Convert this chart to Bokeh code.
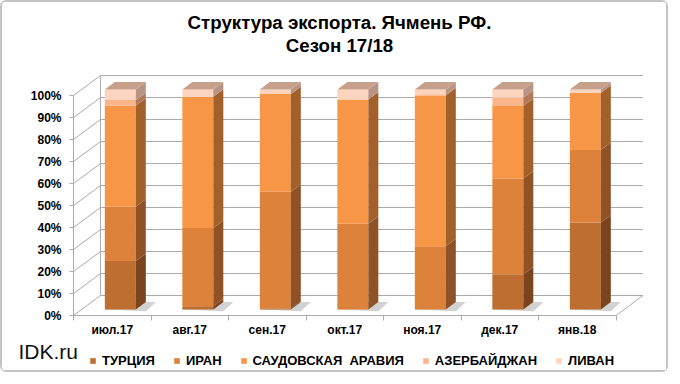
import numpy as np
from bokeh.plotting import figure
from bokeh.models import Range1d, FixedTicker, PrintfTickFormatter, Label, Legend, LegendItem
from bokeh.embed import file_html
from bokeh.resources import INLINE

# ---------------- data ----------------
months = ["июл.17", "авг.17", "сен.17", "окт.17", "ноя.17", "дек.17", "янв.18"]
series_names = ["ТУРЦИЯ", "ИРАН", "САУДОВСКАЯ  АРАВИЯ", "АЗЕРБАЙДЖАН", "ЛИВАН"]
turkey = [22.0, 1.5, 0.5, 0.0, 0.0, 16.0, 39.5]
iran = [24.7, 35.6, 53.0, 39.0, 28.8, 43.5, 33.0]
saudi = [46.0, 59.6, 44.4, 56.5, 68.5, 33.0, 26.0]
azerbaijan = [2.5, 0.0, 0.0, 0.0, 0.5, 3.8, 0.0]
lebanon = [4.8, 3.3, 2.1, 4.5, 2.2, 3.7, 1.5]
y_ticks = [0, 10, 20, 30, 40, 50, 60, 70, 80, 90, 100]
title_lines = ["Структура экспорта. Ячмень РФ.", "Сезон 17/18"]
brand = "IDK.ru"

# ---------------- styles ----------------
front_colors = ["#BE6E30", "#DC823A", "#F79646", "#FAB58A", "#FDD5BF"]
side_colors = ["#7A451E", "#8E5226", "#A2612B", "#B07A5C", "#B89484"]
top_color = "#C7A08C"
grid_color = "#ABABAB"
FONT = "Liberation Sans"

DX, DY = 0.348, 9.09       # depth of the 3D box (x units, percent units)
F1, F2 = 0.30, 0.67        # bar front / back depth fractions
BW = 0.40                  # bar width
PXX, PXY = 77.5, 2.2       # pixels per x unit / per percent
X0, Y0 = 71, 313           # pixel position of data origin inside the canvas
W, H = 668, 372

series = np.array([turkey, iran, saudi, azerbaijan, lebanon], dtype=float)
series = series / series.sum(axis=0) * 100.0
tops = np.cumsum(series, axis=0)
bottoms = tops - series
n = len(months)
idx = np.arange(n)

p = figure(width=W, height=H,
           x_range=Range1d(-X0 / PXX, (W - X0) / PXX),
           y_range=Range1d(-(H - Y0) / PXY, Y0 / PXY),
           output_backend="svg", toolbar_location=None,
           min_border=0, min_border_left=0, min_border_right=0,
           min_border_top=0, min_border_bottom=0)
p.xgrid.visible = False
p.ygrid.visible = False
p.outline_line_color = None
p.background_fill_color = "white"
p.border_fill_color = "white"
p.styles = {"border": "2px solid #c4c4c4", "border-radius": "6px"}

# ---------- walls / floor ----------
xs, ys = [], []
for v in y_ticks:
    xs.append([0, DX]); ys.append([v, v + DY])            # left wall diagonals
    xs.append([DX, n + DX]); ys.append([v + DY, v + DY])  # back wall gridlines
xs.append([0, 0]); ys.append([0, 100])
xs.append([DX, DX]); ys.append([DY, 100 + DY])
xs.append([0, n, n + DX]); ys.append([0, 0, DY])
p.multi_line(xs, ys, line_color=grid_color, line_width=1)

# ---------- bar shadows ----------
left = idx + 0.5 - BW / 2 + F1 * DX
right = left + BW
base = F1 * DY
dd = F2 - F1
sh_x = [[l, r + 0.13, r + dd * DX + 0.13, l + dd * DX] for l, r in zip(left, right)]
sh_y = [[base, base - 0.8, base + dd * DY, base + dd * DY] for _ in left]
p.patches(sh_x, sh_y, fill_color="#7F7F7F", fill_alpha=0.35, line_color=None)

# ---------- bars ----------
renderers = []
for s in range(len(series_names)):
    b = bottoms[s] + base
    t = tops[s] + base
    r = p.quad(left=left, right=right, bottom=b, top=t,
               fill_color=front_colors[s], line_color=None)
    renderers.append(r)
    px = [[rr, rr + dd * DX, rr + dd * DX, rr] for rr in right]
    py = [[bb, bb + dd * DY, tt + dd * DY, tt] for bb, tt in zip(b, t)]
    p.patches(px, py, fill_color=side_colors[s], line_color=None)

tt = tops[-1] + base
top_x = [[l, r, r + dd * DX, l + dd * DX] for l, r in zip(left, right)]
top_y = [[v, v, v + dd * DY, v + dd * DY] for v in tt]
p.patches(top_x, top_y, fill_color=top_color, line_color=None)

# ---------- axes (fixed at the front edges of the 3D box) ----------
ya = p.yaxis[0]
ya.fixed_location = 0
ya.ticker = FixedTicker(ticks=y_ticks, minor_ticks=[])
ya.formatter = PrintfTickFormatter(format="%d%%")
ya.axis_line_color = None
ya.major_tick_line_color = grid_color
ya.major_tick_out = 4
ya.major_tick_in = 0
ya.minor_tick_line_color = None
ya.major_label_standoff = 8
ya.major_label_text_font = FONT
ya.major_label_text_font_size = "12px"
ya.major_label_text_font_style = "bold"
ya.major_label_text_color = "black"

xa = p.xaxis[0]
xa.fixed_location = 0
centers = [i + 0.5 for i in range(n)]
xa.ticker = FixedTicker(ticks=centers, minor_ticks=list(range(n + 1)))
xa.major_label_overrides = {c: m for c, m in zip(centers, months)}
xa.axis_line_color = None
xa.major_tick_line_color = None
xa.major_tick_out = 0
xa.major_tick_in = 0
xa.minor_tick_line_color = grid_color
xa.minor_tick_out = 5
xa.minor_tick_in = 0
xa.major_label_standoff = 2
xa.major_label_text_font = FONT
xa.major_label_text_font_size = "12px"
xa.major_label_text_font_style = "bold"
xa.major_label_text_color = "black"

# ---------- legend ----------
legend = Legend(items=[LegendItem(label=nm, renderers=[r]) for nm, r in zip(series_names, renderers)],
                orientation="horizontal", location=(87, 6),
                glyph_width=7, glyph_height=7, label_standoff=6, spacing=18,
                padding=0, margin=0, border_line_color=None, background_fill_alpha=0,
                label_text_font=FONT, label_text_font_style="bold",
                label_text_font_size="13px", label_text_color="black")
p.add_layout(legend)

# ---------- texts ----------
tx = (337 - X0) / PXX
p.add_layout(Label(x=tx, y=(Y0 - 20) / PXY, text=title_lines[0],
                   text_align="center", text_baseline="middle", text_font=FONT,
                   text_font_style="bold", text_font_size="18.7px", text_color="black"))
p.add_layout(Label(x=tx, y=(Y0 - 43) / PXY, text=title_lines[1],
                   text_align="center", text_baseline="middle", text_font=FONT,
                   text_font_style="bold", text_font_size="18.7px", text_color="black"))
p.add_layout(Label(x=(16 - X0) / PXX, y=(Y0 - 349) / PXY, text=brand, text_align="left",
                   text_baseline="middle", text_font=FONT,
                   text_font_size="21px", text_color="#111111"))

open("out.html", "w").write(file_html(p, INLINE))
